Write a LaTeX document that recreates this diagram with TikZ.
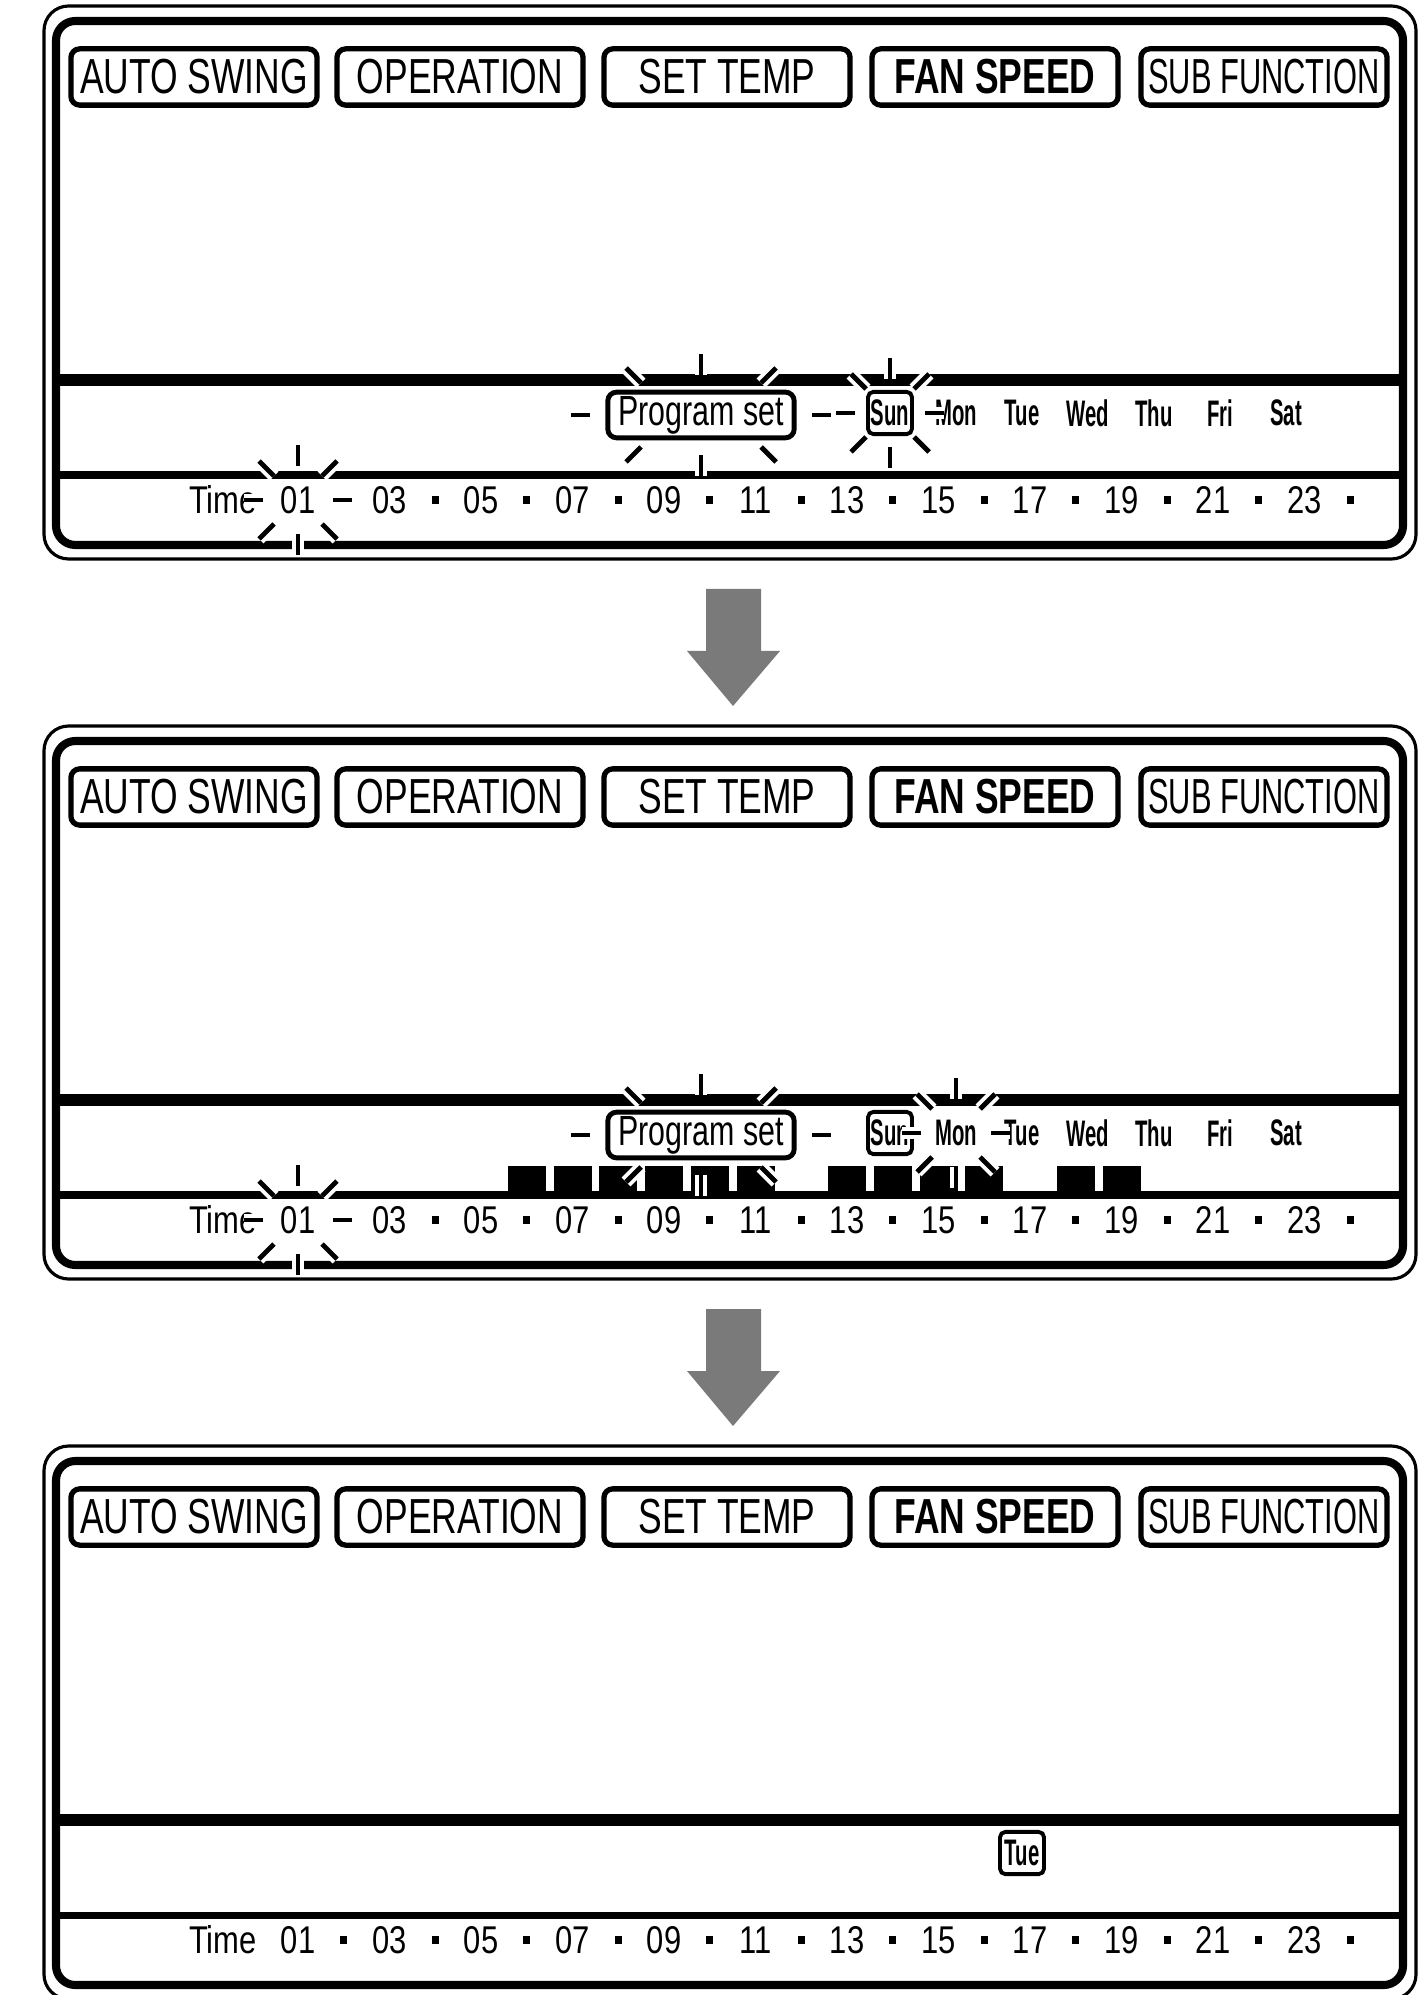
\documentclass[tikz,border=0pt]{standalone}
\usepackage{fontspec}
\usepackage{graphicx}
\newfontfamily\btnfont[FakeStretch=0.72]{Liberation Sans}
\newfontfamily\dayfont[FakeStretch=0.55]{Liberation Sans}
\newfontfamily\timefont[FakeStretch=0.8]{Liberation Sans}
\definecolor{arrowgray}{RGB}{122,122,122}

\tikzset{
  shell/.style={line width=0.9pt, rounded corners=7pt},
  frame/.style={line width=2.3pt, rounded corners=5.5pt},
  divider/.style={line width=3.4pt},
  button/.style={draw, line width=1.5pt, rounded corners=2.5pt, minimum width=70pt,
    minimum height=16pt, inner sep=0pt, font=\btnfont\fontsize{14}{14}\selectfont},
  progbox/.style={draw, line width=1.4pt, rounded corners=2.5pt, minimum width=53pt,
    minimum height=13pt, inner sep=0pt, font=\btnfont\fontsize{12}{12}\selectfont},
  day/.style={inner sep=0pt, font=\dayfont\bfseries\fontsize{10.5}{10.5}\selectfont},
  daybox/.style={draw, line width=1.1pt, rounded corners=1.5pt, minimum width=12.5pt,
    minimum height=12pt},
  hour/.style={inner sep=0pt, font=\timefont\fontsize{11}{11}\selectfont},
  ray/.style={line width=1.4pt, preaction={draw=white, line width=3.6pt}}
}

% one LCD screen, #1 = prefix of the node names
\newcommand{\lcdpanel}[1]{%
  \draw[shell] (44,6) rectangle (1416,559);                 % outer case
  \draw[frame] (56,21) rectangle (1403,545);                % screen edge
  \draw[divider] (56,380) -- (1403,380);
  \draw[line width=2pt] (56,475) -- (1403,475);
  \node[button] (#1-swing) at (194,77) {AUTO SWING};
  \node[button] (#1-oper) at (460,77) {OPERATION};
  \node[button] (#1-temp) at (727,77) {SET TEMP};
  \node[button] (#1-fan) at (995,77) {\bfseries FAN SPEED};
  \node[button] (#1-sub) at (1264,77) {\scalebox{0.87}[1]{SUB FUNCTION}};
  \node[hour] (#1-time) at (223,500) {Time};
  \foreach \t [count=\k from 0] in {01,03,05,07,09,11,13,15,17,19,21,23} {
    \node[hour] (#1-t\t) at ({298+91.5*\k},500) {\t};
    \fill ({340+91.5*\k},496) rectangle ++(7,8);            % hour dot
  }
}

% blinking marks round a node: gaps left/right, up/down, corner x, corner y
\newcommand{\blink}[5]{%
  \begin{scope}[shift={(#1)}]
    \draw[ray] (-#2,0) -- ++(-19,0);
    \draw[ray] (#2,0) -- ++(19,0);
    \draw[ray] (0,-#3) -- ++(0,-21);
    \draw[ray] (0,#3) -- ++(0,21);
    \draw[ray] (-#4,-#5) -- ++(-15,-15);
    \draw[ray] (#4,-#5) -- ++(15,-15);
    \draw[ray] (-#4,#5) -- ++(-15,15);
    \draw[ray] (#4,#5) -- ++(15,15);
  \end{scope}}

\begin{document}
\begin{tikzpicture}[x=0.01cm, y=-0.01cm]
  \useasboundingbox (0,0) rectangle (1424,1995);

  % Step 1: Sunday selected
  \lcdpanel{a}
  \node[progbox] (a-prog) at (701,415) {Program set};
  \node[day, daybox] (a-Sun) at (890,413) {Sun};
  \foreach \d [count=\i] in {Mon,Tue,Wed,Thu,Fri,Sat}
    \node[day] (a-\d) at ({890+66*\i},413) {\d};
  \blink{a-prog}{111}{40}{60}{32}
  \blink{a-Sun}{35}{34}{24}{24}
  \blink{a-t01}{35}{34}{24}{24}

  % Step 2: Sunday set, Monday blinking
  \begin{scope}[shift={(0,720)}]
    \lcdpanel{b}
    \foreach \h in {6,...,11,13,14,15,16,18,19}
      \fill ({279+45.75*(\h-1)},446) rectangle ++(38,29);   % programmed hours
    \node[progbox] (b-prog) at (701,415) {Program set};
    \node[day, daybox] (b-Sun) at (890,413) {Sun};
    \foreach \d [count=\i] in {Mon,Tue,Wed,Thu,Fri,Sat}
      \node[day] (b-\d) at ({890+66*\i},413) {\d};
    \blink{b-prog}{111}{40}{60}{32}
    \blink{b-Mon}{35}{34}{24}{24}
    \blink{b-t01}{35}{34}{24}{24}
  \end{scope}

  % Step 3: Tuesday
  \begin{scope}[shift={(0,1440)}]
    \lcdpanel{c}
    \node[day, daybox] (c-Tue) at (1022,413) {Tue};
  \end{scope}

  % arrows between the steps
  \foreach \s in {0,720}
    \fill[arrowgray, shift={(0,\s)}] (706,589) -- (761,589) -- (761,651) -- (780,651)
      -- (733,706) -- (687,651) -- (706,651) -- cycle;
\end{tikzpicture}
\end{document}
